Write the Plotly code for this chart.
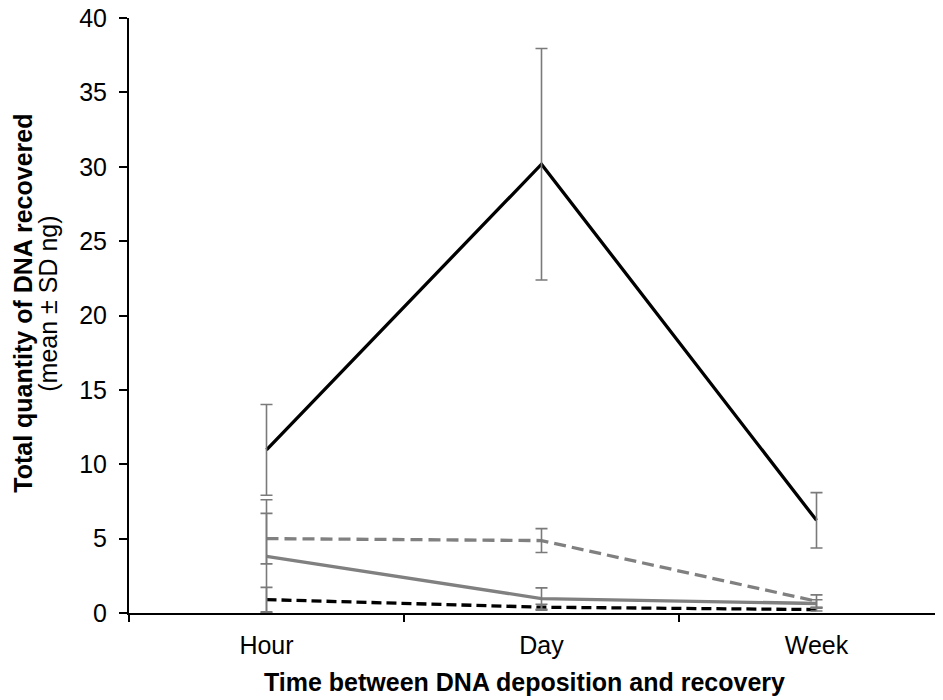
import plotly.graph_objects as go

categories = ["Hour", "Day", "Week"]

# series: means and SDs (ng)
black_solid_mean = [10.97, 30.17, 6.23]
black_solid_sd = [3.05, 7.78, 1.86]

gray_dashed_mean = [5.0, 4.87, 0.79]
gray_dashed_sd = [1.7, 0.8, 0.43]

gray_solid_mean = [3.81, 0.97, 0.64]
gray_solid_sd = [3.8, 0.72, 0.25]

black_dashed_mean = [0.9, 0.39, 0.23]
black_dashed_sd = [0.82, 0.2, 0.1]

y_ticks = [0, 5, 10, 15, 20, 25, 30, 35, 40]

x_title = "<b>Time between DNA deposition and recovery</b>"
y_title_1 = "<b>Total quantity of DNA recovered</b>"
y_title_2 = "(mean ± SD ng)"

FONT = "Liberation Sans, Arial, sans-serif"
GRAY = "#808080"
ERR = "#7a7a7a"
FS = 25

series = [
    (black_solid_mean, black_solid_sd, "black", "solid"),
    (gray_dashed_mean, gray_dashed_sd, GRAY, "12px,6px"),
    (gray_solid_mean, gray_solid_sd, GRAY, "solid"),
    (black_dashed_mean, black_dashed_sd, "black", "10px,5px"),
]

fig = go.Figure()

for mean, sd, color, dash in reversed(series):
    fig.add_trace(go.Scatter(
        x=categories, y=mean, mode="lines",
        line=dict(color=color, width=3.3, dash=dash),
        showlegend=False, hoverinfo="skip",
    ))

for mean, sd, color, dash in series:
    fig.add_trace(go.Scatter(
        x=categories, y=mean, mode="markers",
        marker=dict(size=1, color="rgba(0,0,0,0)"),
        error_y=dict(type="data", array=sd, visible=True,
                     color=ERR, thickness=1.6, width=6),
        showlegend=False, hoverinfo="skip",
    ))

# page body adds an 8px offset; compensate so the picture lines up
OFF = 8
W, H = 943 - OFF, 700 - OFF
L = 129 - OFF
T = 18 - OFF
BOTTOM = 613.5 - OFF  # plot bottom in figure px
B = H - BOTTOM
PW = W - L
PH = BOTTOM - T


def px_x(p):
    return (p - OFF - L) / PW


def px_y(p):
    return (BOTTOM - (p - OFF)) / PH


fig.update_layout(
    width=W, height=H,
    margin=dict(l=L, r=0, t=T, b=B, autoexpand=False),
    plot_bgcolor="white", paper_bgcolor="white",
    font=dict(family=FONT, size=FS, color="black"),
    xaxis=dict(
        type="category",
        categoryorder="array", categoryarray=categories,
        range=[-0.5, 2.46],
        tickson="boundaries",
        ticks="outside", ticklen=7, tickwidth=1.5, tickcolor="black",
        showline=True, linecolor="black", linewidth=2,
        showgrid=False, zeroline=False,
        tickfont=dict(family=FONT, size=FS),
        ticklabelstandoff=9,
        ticklabeloverflow="allow",
        automargin=False,
    ),
    yaxis=dict(
        range=[0, 40],
        tickvals=y_ticks,
        ticks="outside", ticklen=8, tickwidth=1.5, tickcolor="black",
        showline=True, linecolor="black", linewidth=2,
        showgrid=False, zeroline=False,
        tickfont=dict(family=FONT, size=FS),
        ticklabelstandoff=7,
        ticklabeloverflow="allow",
        automargin=False,
    ),
    annotations=[
        dict(text=x_title, xref="paper", yref="paper",
             x=px_x(524), y=px_y(683), xanchor="center", yanchor="middle",
             showarrow=False, font=dict(family=FONT, size=FS)),
        dict(text=y_title_1, xref="paper", yref="paper", textangle=-90,
             x=px_x(23), y=px_y(304), xanchor="center", yanchor="middle",
             showarrow=False, font=dict(family=FONT, size=FS)),
        dict(text=y_title_2, xref="paper", yref="paper", textangle=-90,
             x=px_x(48), y=px_y(304), xanchor="center", yanchor="middle",
             showarrow=False, font=dict(family=FONT, size=FS)),
    ],
)

fig.write_html("out.html")
